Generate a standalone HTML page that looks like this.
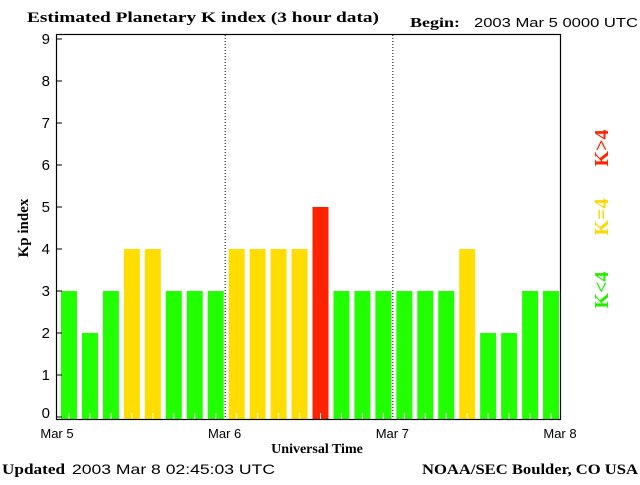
<!DOCTYPE html>
<html><head><meta charset="utf-8"><style>
body{margin:0;background:#fff;width:640px;height:480px;overflow:hidden}
.s{font-family:"Liberation Sans",sans-serif}
.b{font-family:"Liberation Serif",serif;font-weight:bold}
</style></head><body>
<svg id="chart" width="640" height="480">
<text class="b" x="27" y="22" font-size="15" textLength="352" lengthAdjust="spacingAndGlyphs">Estimated Planetary K index (3 hour data)</text>
<text class="b" x="410" y="27" font-size="14" textLength="50" lengthAdjust="spacingAndGlyphs">Begin:</text>
<text class="s" x="474" y="27" font-size="13" textLength="164" lengthAdjust="spacingAndGlyphs">2003 Mar 5 0000 UTC</text>
<text class="b" transform="translate(28,228) rotate(-90)" text-anchor="middle" font-size="15">Kp index</text>
<text class="b" x="317" y="453" text-anchor="middle" font-size="14">Universal Time</text>
<text class="b" x="2" y="474" font-size="15" textLength="63" lengthAdjust="spacingAndGlyphs">Updated</text>
<text class="s" x="72" y="474" font-size="14" textLength="203" lengthAdjust="spacingAndGlyphs">2003 Mar  8 02:45:03 UTC</text>
<text class="b" x="422" y="474" font-size="15" textLength="216" lengthAdjust="spacingAndGlyphs">NOAA/SEC Boulder, CO USA</text>
<text class="b" transform="translate(608,148) rotate(-90)" text-anchor="middle" fill="#ff2200" font-size="20">K&gt;4</text>
<text class="b" transform="translate(608,217) rotate(-90)" text-anchor="middle" fill="#ffd800" font-size="20">K=4</text>
<text class="b" transform="translate(608,290) rotate(-90)" text-anchor="middle" fill="#22ee00" font-size="20">K&lt;4</text>
<g id="plot"></g>
</svg>
<script>
const kpValues=[3,2,3,4,4,3,3,3, 4,4,4,4,5,3,3,3, 3,3,3,4,2,2,3,3];
const dayLabels=["Mar 5","Mar 6","Mar 7","Mar 8"];
const yTicks=[0,1,2,3,4,5,6,7,8,9];
const X0=57,X1=560,Y0=417,YTOP=35,STEP=42;
const ns="http://www.w3.org/2000/svg";
const g=document.getElementById('plot');
const slot=(X1-X0)/kpValues.length;
function xs(i){return X0+i*slot;}
function ys(v){return Y0-v*STEP;}
function mk(t,a){const e=document.createElementNS(ns,t);for(const k in a)e.setAttribute(k,a[k]);g.appendChild(e);return e;}
kpValues.forEach((v,i)=>{
 const c=v>4?'#ff2200':v==4?'#ffdd00':'#22ff00';
 const r=mk('rect',{x:xs(i)+4,y:ys(v),width:16,height:Y0-ys(v)+2,fill:c});
 
 
 const t=mk('line',{x1:xs(i)+12,x2:xs(i)+12,y1:413,y2:419,stroke:'#fff'});
 
 
});
for(let d=1;d<dayLabels.length-1;d++){
 const x=X0+d*(X1-X0)/(dayLabels.length-1)+0.5;
 const l=mk('line',{x1:x,x2:x,y1:YTOP,y2:419,stroke:'#000','stroke-dasharray':'1,2'});
 
 
}
const fr=mk('rect',{x:56.5,y:34.5,width:504,height:385,fill:'none',stroke:'#000','stroke-width':1.2});


yTicks.forEach(v=>{
 const y=ys(v);
 const tk=mk('line',{x1:57,x2:62,y1:y,y2:y,stroke:'#000'});
 
 
 const t=mk('text',{x:50,y:Math.min(y+5,418),'text-anchor':'end','font-size':15,'class':'s'});
 t.textContent=v;
 
 
});
dayLabels.forEach((s,d)=>{
 const t=mk('text',{x:X0+d*(X1-X0)/(dayLabels.length-1),y:438,'text-anchor':'middle','font-size':13,'class':'s'});
 t.textContent=s;
 
 
});
</script>
</body></html>
